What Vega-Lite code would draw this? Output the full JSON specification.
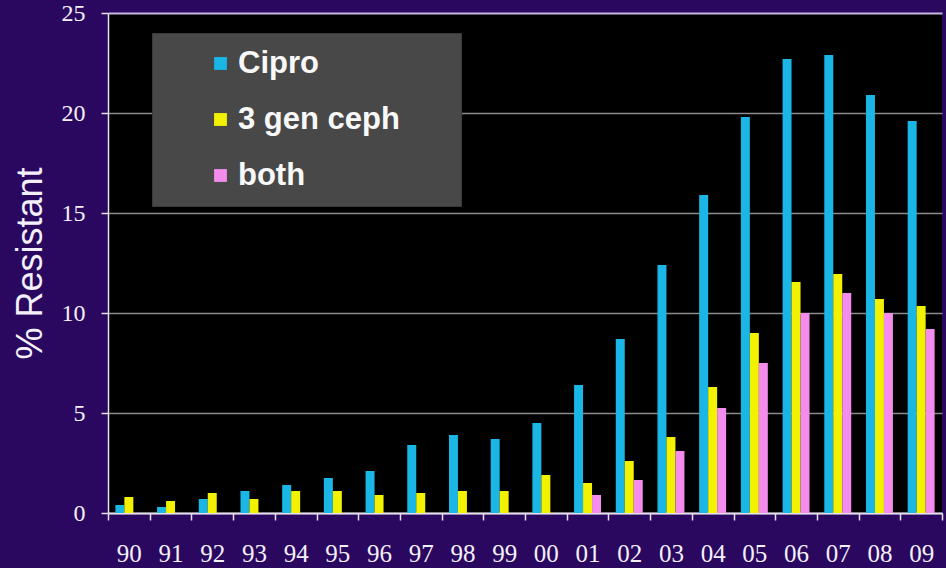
{
  "$schema": "https://vega.github.io/schema/vega-lite/v6.json",
  "width": 834,
  "height": 500,
  "autosize": {"type": "none"},
  "padding": {"left": 108, "top": 13, "right": 4, "bottom": 55},
  "background": "#2a0860",
  "config": {
    "view": {"fill": "#000000", "stroke": null}
  },
  "data": {
    "values": [
      {"year": "90", "drug": "Cipro", "pct": 0.4},
      {"year": "91", "drug": "Cipro", "pct": 0.3},
      {"year": "92", "drug": "Cipro", "pct": 0.7},
      {"year": "93", "drug": "Cipro", "pct": 1.1},
      {"year": "94", "drug": "Cipro", "pct": 1.4},
      {"year": "95", "drug": "Cipro", "pct": 1.75},
      {"year": "96", "drug": "Cipro", "pct": 2.1},
      {"year": "97", "drug": "Cipro", "pct": 3.4},
      {"year": "98", "drug": "Cipro", "pct": 3.9},
      {"year": "99", "drug": "Cipro", "pct": 3.7},
      {"year": "00", "drug": "Cipro", "pct": 4.5},
      {"year": "01", "drug": "Cipro", "pct": 6.4},
      {"year": "02", "drug": "Cipro", "pct": 8.7},
      {"year": "03", "drug": "Cipro", "pct": 12.4},
      {"year": "04", "drug": "Cipro", "pct": 15.9},
      {"year": "05", "drug": "Cipro", "pct": 19.8},
      {"year": "06", "drug": "Cipro", "pct": 22.7},
      {"year": "07", "drug": "Cipro", "pct": 22.9},
      {"year": "08", "drug": "Cipro", "pct": 20.9},
      {"year": "09", "drug": "Cipro", "pct": 19.6},
      {"year": "90", "drug": "3 gen ceph", "pct": 0.8},
      {"year": "91", "drug": "3 gen ceph", "pct": 0.6},
      {"year": "92", "drug": "3 gen ceph", "pct": 1.0},
      {"year": "93", "drug": "3 gen ceph", "pct": 0.7},
      {"year": "94", "drug": "3 gen ceph", "pct": 1.1},
      {"year": "95", "drug": "3 gen ceph", "pct": 1.1},
      {"year": "96", "drug": "3 gen ceph", "pct": 0.9},
      {"year": "97", "drug": "3 gen ceph", "pct": 1.0},
      {"year": "98", "drug": "3 gen ceph", "pct": 1.1},
      {"year": "99", "drug": "3 gen ceph", "pct": 1.1},
      {"year": "00", "drug": "3 gen ceph", "pct": 1.9},
      {"year": "01", "drug": "3 gen ceph", "pct": 1.5},
      {"year": "02", "drug": "3 gen ceph", "pct": 2.6},
      {"year": "03", "drug": "3 gen ceph", "pct": 3.8},
      {"year": "04", "drug": "3 gen ceph", "pct": 6.3},
      {"year": "05", "drug": "3 gen ceph", "pct": 9.0},
      {"year": "06", "drug": "3 gen ceph", "pct": 11.55},
      {"year": "07", "drug": "3 gen ceph", "pct": 11.95},
      {"year": "08", "drug": "3 gen ceph", "pct": 10.7},
      {"year": "09", "drug": "3 gen ceph", "pct": 10.35},
      {"year": "01", "drug": "both", "pct": 0.9},
      {"year": "02", "drug": "both", "pct": 1.65},
      {"year": "03", "drug": "both", "pct": 3.1},
      {"year": "04", "drug": "both", "pct": 5.25},
      {"year": "05", "drug": "both", "pct": 7.5},
      {"year": "06", "drug": "both", "pct": 10.0},
      {"year": "07", "drug": "both", "pct": 11.0},
      {"year": "08", "drug": "both", "pct": 10.0},
      {"year": "09", "drug": "both", "pct": 9.2}
    ]
  },
  "mark": {"type": "bar"},
  "encoding": {
    "x": {
      "field": "year",
      "type": "nominal",
      "sort": null,
      "scale": {"paddingInner": 0, "paddingOuter": 0},
      "axis": {
        "title": null,
        "labelAngle": 0,
        "labelFont": "Liberation Serif",
        "labelFontSize": 25,
        "labelColor": "#f4f0fa",
        "labelPadding": 21,
        "tickBand": "extent",
        "tickColor": "#e8e0f0",
        "tickSize": 7,
        "tickWidth": 1.5,
        "domainColor": "#e8e0f0",
        "domainWidth": 2
      }
    },
    "xOffset": {
      "field": "drug",
      "type": "nominal",
      "sort": ["Cipro", "3 gen ceph", "both"],
      "scale": {"paddingInner": 0, "paddingOuter": 0.82}
    },
    "y": {
      "field": "pct",
      "type": "quantitative",
      "scale": {"domain": [0, 25]},
      "axis": {
        "title": "% Resistant",
        "titleFont": "Liberation Sans",
        "titleFontSize": 36,
        "titleFontWeight": "normal",
        "titleColor": "#f4f0fa",
        "titlePadding": 12,
        "values": [0, 5, 10, 15, 20, 25],
        "labelFont": "Liberation Serif",
        "labelFontSize": 24,
        "labelColor": "#f4f0fa",
        "labelPadding": 16,
        "tickColor": "#e8e0f0",
        "tickSize": 7,
        "tickWidth": 1.5,
        "domainColor": "#e8e0f0",
        "domainWidth": 1.5,
        "grid": true,
        "gridColor": {"condition": {"test": "datum.value == 25", "value": "#c8b8e0"}, "value": "#8a8a8a"},
        "gridWidth": {"condition": {"test": "datum.value == 25", "value": 2}, "value": 1.5}
      }
    },
    "color": {
      "field": "drug",
      "type": "nominal",
      "scale": {
        "domain": ["Cipro", "3 gen ceph", "both"],
        "range": ["#1ab6e6", "#f2f200", "#f48ced"]
      },
      "legend": {
        "title": "\u00a0",
        "titleOrient": "right",
        "titlePadding": 46,
        "titleFontSize": 10,
        "orient": "none",
        "legendX": 44,
        "legendY": 20,
        "fillColor": "#484848",
        "strokeColor": "#3a3a3a",
        "padding": 15,
        "symbolType": "square",
        "symbolSize": 165,
        "symbolOffset": 38,
        "symbolStrokeWidth": 0,
        "labelFont": "Liberation Sans",
        "labelFontSize": 31,
        "labelFontWeight": "bold",
        "labelColor": "#f8f8f8",
        "labelOffset": 2,
        "labelLimit": 500,
        "rowPadding": 24
      }
    }
  }
}
